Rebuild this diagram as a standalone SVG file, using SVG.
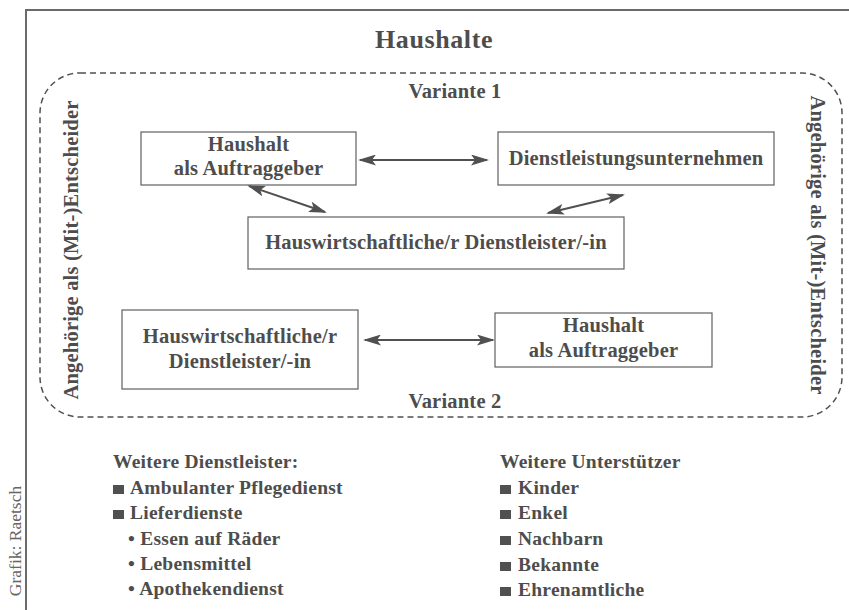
<svg xmlns="http://www.w3.org/2000/svg" width="849" height="610" viewBox="0 0 849 610">
<style>
text{font-family:"Liberation Serif","Times New Roman",serif;font-weight:bold;fill:#4d4d4d}
.box{fill:#fff;stroke:#606060;stroke-width:1.2}
.t{font-size:20.5px;letter-spacing:0.2px;text-anchor:middle}
.l{font-size:19.5px;letter-spacing:0.25px}
.c{stroke:#505050;stroke-width:2;fill:none;marker-start:url(#ah);marker-end:url(#ah)}
</style>
<defs>
<marker id="ah" markerUnits="userSpaceOnUse" markerWidth="18" markerHeight="11" viewBox="0 0 18 11" refX="16" refY="5.5" orient="auto-start-reverse">
<path d="M0,0 L18,5.5 L0,11 L4,5.5 z" fill="#505050"/>
</marker>
</defs>
<rect width="849" height="610" fill="#fff"/>
<path d="M26,610 V10 H849" fill="none" stroke="#6a6a6a" stroke-width="2"/>
<text x="21" y="541" transform="rotate(-90 21 541)" text-anchor="middle" style="font-weight:normal;font-size:17.5px;fill:#666">Grafik: Raetsch</text>
<text x="434" y="48" text-anchor="middle" style="font-size:26px;letter-spacing:0.6px">Haushalte</text>
<rect x="40" y="73" width="802" height="344" rx="40" ry="40" fill="none" stroke="#505050" stroke-width="1.5" stroke-dasharray="6 4"/>
<text class="t" x="455" y="98">Variante 1</text>
<text class="t" x="455" y="408">Variante 2</text>
<text class="t" x="78" y="250" transform="rotate(-90 78 250)">Angehörige als (Mit-)Entscheider</text>
<text class="t" x="811" y="245" transform="rotate(90 811 245)">Angehörige als (Mit-)Entscheider</text>
<g id="connectors">
<line class="c" x1="360" y1="160" x2="487" y2="160"/>
<line class="c" x1="249" y1="186" x2="325" y2="212"/>
<line class="c" x1="623" y1="195" x2="548" y2="213"/>
<line class="c" x1="365" y1="340" x2="493" y2="340"/>
</g>
<g id="n1">
<rect class="box" x="141" y="132" width="215" height="53"/>
<text class="t" x="248.5" y="151">Haushalt</text>
<text class="t" x="248.5" y="175">als Auftraggeber</text>
</g>
<g id="n2">
<rect class="box" x="498" y="132" width="276" height="53"/>
<text class="t" x="636" y="165">Dienstleistungsunternehmen</text>
</g>
<g id="n3">
<rect class="box" x="248" y="217" width="376" height="52"/>
<text class="t" x="436" y="249">Hauswirtschaftliche/r Dienstleister/-in</text>
</g>
<g id="n4">
<rect class="box" x="122" y="310" width="236" height="79"/>
<text class="t" x="240" y="343">Hauswirtschaftliche/r</text>
<text class="t" x="240" y="368">Dienstleister/-in</text>
</g>
<g id="n5">
<rect class="box" x="495" y="313" width="217" height="54"/>
<text class="t" x="603.5" y="332">Haushalt</text>
<text class="t" x="603.5" y="357">als Auftraggeber</text>
</g>
<g id="list1">
<text class="l" x="113" y="468">Weitere Dienstleister:</text>
<rect x="113" y="485" width="11" height="9" fill="#505050"/>
<text class="l" x="130" y="494">Ambulanter Pflegedienst</text>
<rect x="113" y="510" width="11" height="9" fill="#505050"/>
<text class="l" x="130" y="519">Lieferdienste</text>
<text class="l" x="128" y="545">• Essen auf Räder</text>
<text class="l" x="128" y="570">• Lebensmittel</text>
<text class="l" x="128" y="595">• Apothekendienst</text>
</g>
<g id="list2">
<text class="l" x="500" y="468">Weitere Unterstützer</text>
<rect x="500" y="485" width="11" height="9" fill="#505050"/>
<text class="l" x="518" y="494">Kinder</text>
<rect x="500" y="510" width="11" height="9" fill="#505050"/>
<text class="l" x="518" y="519">Enkel</text>
<rect x="500" y="536" width="11" height="9" fill="#505050"/>
<text class="l" x="518" y="545">Nachbarn</text>
<rect x="500" y="562" width="11" height="9" fill="#505050"/>
<text class="l" x="518" y="571">Bekannte</text>
<rect x="500" y="587" width="11" height="9" fill="#505050"/>
<text class="l" x="518" y="596">Ehrenamtliche</text>
</g>
</svg>
